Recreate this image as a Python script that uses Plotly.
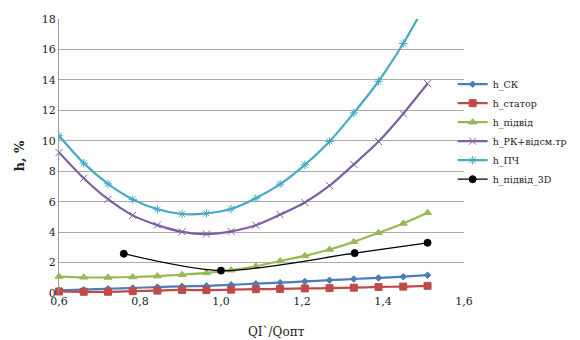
import plotly.graph_objects as go

x16 = [0.600, 0.661, 0.721, 0.782, 0.843, 0.904, 0.964, 1.025,
       1.086, 1.146, 1.207, 1.268, 1.328, 1.389, 1.450, 1.510]

h_sk = [0.18, 0.22, 0.28, 0.33, 0.39, 0.44, 0.47, 0.54,
        0.61, 0.68, 0.76, 0.84, 0.92, 0.99, 1.07, 1.17]
h_stator = [0.10, 0.08, 0.08, 0.12, 0.16, 0.20, 0.19, 0.22,
            0.25, 0.27, 0.30, 0.32, 0.35, 0.40, 0.42, 0.47]
h_pidvid = [1.08, 1.03, 1.02, 1.05, 1.11, 1.20, 1.32, 1.50,
            1.76, 2.10, 2.44, 2.86, 3.36, 3.96, 4.57, 5.27]
h_rk = [9.23, 7.54, 6.16, 5.10, 4.46, 4.02, 3.87, 4.05,
        4.45, 5.15, 5.95, 7.05, 8.45, 9.95, 11.78, 13.76]
h_pch = [10.33, 8.53, 7.17, 6.15, 5.50, 5.19, 5.23, 5.52,
         6.22, 7.15, 8.42, 9.95, 11.83, 13.91, 16.39, 19.2]

x3d = [0.76, 1.00, 1.33, 1.51]
h_3d = [2.58, 1.47, 2.62, 3.30]

xticks = [0.6, 0.8, 1.0, 1.2, 1.4, 1.6]
yticks = [0, 2, 4, 6, 8, 10, 12, 14, 16, 18]

series = [
    ("h_СК", x16, h_sk, "#4A7EBB", "diamond", 5, False),
    ("h_статор", x16, h_stator, "#BE4B48", "square", 7, False),
    ("h_підвід", x16, h_pidvid, "#98B954", "triangle-up", 7, False),
    ("h_РК+відсм.тр", x16, h_rk, "#7D60A0", "x-thin", 7, False),
    ("h_ПЧ", x16, h_pch, "#46AAC5", "asterisk", 7, True),
    ("h_підвід_3D", x3d, h_3d, "#000000", "circle", 7, False),
]

fig = go.Figure()
for name, xs, ys, col, sym, size, clip in series:
    fig.add_trace(go.Scatter(
        x=xs, y=ys, name=name, mode="lines+markers",
        line=dict(color=col, width=2.2 if col != "#000000" else 1.3,
                  shape="spline", smoothing=0.8),
        marker=dict(symbol=sym, size=size, color=col,
                    line=dict(color=col, width=1)),
        cliponaxis=clip,
    ))

font_family = "DejaVu Serif"
fig.update_layout(
    width=572, height=332,
    margin=dict(l=51, r=116, t=11, b=47, autoexpand=False),
    paper_bgcolor="white", plot_bgcolor="white",
    separators=", ",
    font=dict(family=font_family, size=11, color="#222"),
    showlegend=True,
    legend=dict(x=0.972, y=0.815, xanchor="left", yanchor="top",
                font=dict(family=font_family, size=9.5, color="#222"),
                tracegroupgap=0, itemwidth=30, bgcolor="rgba(0,0,0,0)"),
    xaxis=dict(range=[0.6, 1.6], tickvals=xticks, tickformat=".1f",
               showgrid=False, zeroline=False, showline=False,
               ticks="", tickfont=dict(size=11, family=font_family)),
    yaxis=dict(range=[0, 18], tickvals=yticks, showgrid=True,
               gridcolor="#ababab", gridwidth=1, zeroline=False,
               showline=True, linecolor="#9a9a9a", linewidth=1,
               ticks="", tickfont=dict(size=11, family=font_family),
               title=dict(text="<b>h, %</b>", font=dict(size=13, family=font_family), standoff=14)),
    annotations=[dict(text="QI`/Qопт", xref="paper", yref="paper",
                      x=0.536, y=-0.142, xanchor="center", yanchor="middle",
                      showarrow=False,
                      font=dict(size=12, family=font_family, color="#222"))],
)

fig.write_html("out.html")
